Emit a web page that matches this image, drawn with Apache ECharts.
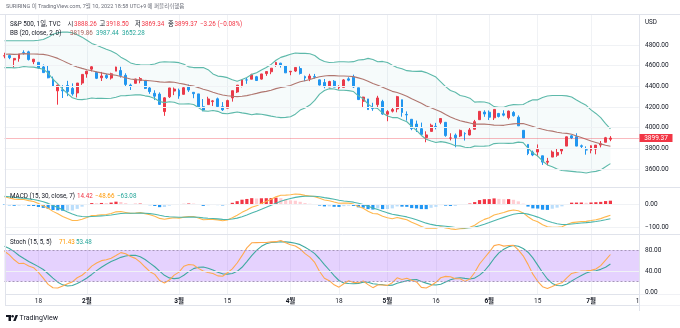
<!DOCTYPE html>
<html><head><meta charset="utf-8"><title>S&amp;P 500 daily</title>
<script src="https://cdn.jsdelivr.net/npm/echarts@6.0.0/dist/echarts.min.js"></script>
<style>html,body{margin:0;padding:0;background:#fff;}#chart{width:680px;height:328px;}</style>
</head><body><div id="chart"></div>
<script>
// ---- history before the first drawn bar (closes only, Sep-Nov 2021), used by the indicators ----
const warmClose = [4524.09,4536.95,4535.43,4520.03,4514.07,4493.28,4458.58,4468.73,4443.05,4480.70,4473.75,4432.99,4357.73,4354.19,4395.64,4448.98,4455.48,4443.11,4352.63,4359.46,4307.54,
4357.04,4300.46,4345.72,4363.55,4399.76,4391.34,4361.19,4350.65,4363.80,4438.26,4471.37,4486.46,4519.63,4536.19,4549.78,4544.90,4566.48,4574.79,4551.68,4596.42,4605.38,
4613.67,4630.65,4660.57,4680.06,4697.53,4701.70,4685.25,4646.71,4649.27,4682.85,4682.80,4700.90,4688.67,4704.54,4697.96,4682.94,4690.70,4701.46,4594.62,4655.27,4567.00];

// ---- daily bars, Dec 1 2021 .. Jul 8 2022 ----
const dates = ['12/1','12/2','12/3','12/6','12/7','12/8','12/9','12/10','12/13','12/14','12/15','12/16','12/17','12/20','12/21','12/22','12/23','12/27','12/28','12/29','12/30','12/31',
'1/3','1/4','1/5','1/6','1/7','1/10','1/11','1/12','1/13','1/14','1/18','1/19','1/20','1/21','1/24','1/25','1/26','1/27','1/28','1/31',
'2/1','2/2','2/3','2/4','2/7','2/8','2/9','2/10','2/11','2/14','2/15','2/16','2/17','2/18','2/22','2/23','2/24','2/25','2/28',
'3/1','3/2','3/3','3/4','3/7','3/8','3/9','3/10','3/11','3/14','3/15','3/16','3/17','3/18','3/21','3/22','3/23','3/24','3/25','3/28','3/29','3/30','3/31',
'4/1','4/4','4/5','4/6','4/7','4/8','4/11','4/12','4/13','4/14','4/18','4/19','4/20','4/21','4/22','4/25','4/26','4/27','4/28','4/29',
'5/2','5/3','5/4','5/5','5/6','5/9','5/10','5/11','5/12','5/13','5/16','5/17','5/18','5/19','5/20','5/23','5/24','5/25','5/26','5/27','5/31',
'6/1','6/2','6/3','6/6','6/7','6/8','6/9','6/10','6/13','6/14','6/15','6/16','6/17','6/21','6/22','6/23','6/24','6/27','6/28','6/29','6/30',
'7/1','7/5','7/6','7/7','7/8'];
const open = [4602.82,4504.73,4589.49,4548.37,4631.97,4690.86,4691.00,4687.64,4710.30,4642.99,4636.46,4719.13,4652.50,4587.90,4594.96,4650.36,4703.96,4733.99,4795.49,4788.64,4794.23,4775.21,
4778.14,4804.51,4787.99,4693.39,4697.66,4655.34,4669.14,4728.59,4733.56,4637.99,4632.24,4588.03,4547.35,4471.38,4356.32,4366.64,4408.43,4380.58,4336.19,4431.79,
4519.57,4566.39,4535.41,4482.79,4505.75,4480.02,4547.00,4553.24,4506.27,4412.61,4429.28,4455.75,4456.06,4384.57,4332.74,4324.93,4155.77,4298.38,4354.17,
4363.14,4322.56,4401.31,4342.12,4327.01,4202.66,4223.10,4252.55,4279.50,4202.75,4188.82,4288.14,4345.11,4407.34,4462.40,4469.10,4493.10,4469.98,4522.91,4541.09,4602.86,4624.20,4599.02,
4540.32,4547.97,4572.45,4494.17,4474.65,4494.15,4462.64,4437.59,4394.30,4449.12,4385.63,4390.63,4472.26,4489.17,4385.83,4255.34,4278.14,4186.52,4222.58,4253.75,
4130.61,4159.78,4181.18,4270.43,4128.17,4081.27,4035.18,3990.08,3903.95,3963.90,4013.02,4052.00,4051.98,3899.00,3927.76,3919.42,3942.94,3929.59,3984.60,4077.43,4151.09,
4149.78,4095.41,4137.57,4134.72,4096.47,4147.12,4101.65,3974.39,3838.15,3763.52,3764.05,3728.18,3665.90,3715.31,3733.89,3774.71,3821.75,3920.76,3913.00,3825.09,3785.99,
3781.00,3792.61,3831.98,3858.85,3888.26];
const high = [4652.94,4595.46,4608.03,4612.60,4694.04,4705.06,4695.26,4713.57,4710.30,4660.47,4712.60,4731.99,4666.70,4587.90,4651.14,4697.67,4740.74,4791.49,4807.02,4804.06,4808.93,4786.83,
4796.64,4818.62,4797.70,4725.01,4707.95,4673.02,4714.13,4748.83,4744.13,4665.13,4632.24,4611.55,4602.11,4494.52,4417.35,4411.01,4453.23,4428.74,4432.72,4516.89,
4550.49,4595.31,4542.88,4539.66,4521.86,4531.32,4590.03,4588.92,4526.33,4426.22,4472.77,4489.55,4456.06,4394.60,4362.12,4341.51,4294.73,4385.34,4388.84,
4378.45,4401.48,4416.78,4342.12,4327.01,4276.94,4299.40,4268.28,4291.01,4247.57,4271.05,4358.03,4412.67,4465.40,4481.75,4522.00,4501.07,4520.58,4546.03,4575.65,4637.30,4627.77,4603.07,
4548.70,4583.50,4593.45,4503.94,4521.16,4520.41,4464.35,4471.00,4453.92,4460.46,4410.31,4471.03,4488.29,4512.94,4385.83,4299.02,4278.14,4240.71,4308.45,4269.68,
4169.81,4200.10,4307.66,4270.43,4157.69,4081.27,4068.82,4049.09,3964.80,4038.88,4046.46,4090.72,4051.98,3945.96,3943.42,3981.88,3955.68,3999.33,4075.14,4158.49,4168.34,
4166.54,4177.51,4142.67,4168.78,4164.86,4160.14,4119.10,3974.39,3838.15,3778.18,3837.56,3728.18,3707.71,3779.65,3801.79,3802.58,3913.65,3927.72,3945.86,3836.50,3818.99,
3829.82,3832.19,3870.91,3910.63,3918.50];
const low = [4510.27,4504.73,4495.12,4540.51,4631.97,4674.52,4665.98,4670.24,4667.60,4606.52,4611.22,4651.89,4600.22,4531.10,4583.16,4645.53,4703.96,4733.99,4780.04,4778.08,4775.33,4765.75,
4758.17,4774.27,4699.44,4671.26,4662.74,4582.24,4638.27,4706.71,4650.29,4614.75,4568.70,4530.20,4477.95,4395.34,4222.62,4287.11,4304.80,4309.50,4292.46,4414.02,
4483.53,4544.32,4470.39,4451.50,4471.47,4465.40,4547.00,4484.31,4401.41,4364.84,4429.28,4429.68,4373.81,4327.22,4267.11,4221.51,4114.65,4286.83,4315.12,
4279.54,4322.56,4345.56,4284.98,4199.85,4157.87,4223.10,4209.80,4200.49,4161.72,4187.90,4251.99,4335.65,4390.57,4424.30,4469.10,4455.81,4465.17,4501.07,4517.69,4589.66,4581.32,4530.41,
4507.57,4539.21,4514.17,4450.04,4450.30,4474.60,4408.38,4381.34,4392.70,4390.77,4370.30,4390.63,4448.76,4384.47,4267.62,4200.82,4175.04,4162.90,4188.63,4124.28,
4062.51,4147.08,4148.91,4106.01,4067.91,3975.48,3958.17,3928.82,3858.87,3963.90,3983.99,4033.93,3911.91,3876.58,3810.32,3909.04,3875.13,3925.03,3984.60,4077.43,4104.88,
4073.85,4074.37,4098.67,4109.18,4080.19,4107.20,4017.17,3900.16,3734.30,3724.36,3722.30,3639.77,3636.87,3715.31,3717.69,3743.52,3821.75,3889.66,3820.14,3799.02,3738.67,
3752.10,3742.06,3809.37,3858.85,3869.34];
const close = [4513.04,4577.10,4538.43,4591.67,4686.75,4701.21,4667.45,4712.02,4668.97,4634.09,4709.85,4668.67,4620.64,4568.02,4649.23,4696.56,4725.79,4791.19,4786.35,4793.06,4778.73,4766.18,
4796.56,4793.54,4700.58,4696.05,4677.03,4670.29,4713.07,4726.35,4659.03,4662.85,4577.11,4532.76,4482.73,4397.94,4410.13,4356.45,4349.93,4326.51,4431.85,4515.55,
4546.54,4589.38,4477.44,4500.53,4483.87,4521.54,4587.18,4504.08,4418.64,4401.67,4471.07,4475.01,4380.26,4348.87,4304.76,4225.50,4288.70,4384.65,4373.94,
4306.26,4386.54,4363.49,4328.87,4201.09,4170.70,4277.88,4259.52,4204.31,4173.11,4262.45,4357.86,4411.67,4463.12,4461.18,4511.61,4456.24,4520.16,4543.06,4575.52,4631.60,4602.45,4530.41,
4545.86,4582.64,4525.12,4481.15,4500.21,4488.28,4412.53,4397.45,4446.59,4392.59,4391.69,4462.21,4459.45,4393.66,4271.78,4296.12,4175.20,4183.96,4287.50,4131.93,
4155.38,4175.48,4300.17,4146.87,4123.34,3991.24,4001.05,3935.18,3930.08,4023.89,4008.01,4088.85,3923.68,3900.79,3901.36,3973.75,3941.48,3978.73,4057.84,4158.24,4132.15,
4101.23,4176.82,4108.54,4121.43,4160.68,4115.77,4017.82,3900.86,3749.63,3735.48,3789.99,3666.77,3674.84,3764.79,3759.89,3795.73,3911.74,3900.11,3821.55,3818.83,3785.38,
3825.33,3831.39,3845.08,3902.62,3899.37];
const futureDates = ['7/11','7/12','7/13','7/14','7/15','7/18'];
const firstShown = '1/6';

// ---- axis ticks / labels ----
const tickDates = ['1/18','2/1','3/1','3/15','4/1','4/18','5/2','5/16','6/1','6/15','7/1','7/18'];
const tickTexts = ['18','2월','3월','15','4월','18','5월','16','6월','15','7월','18'];
const priceTicks = [3600,3800,4000,4200,4400,4600,4800];
const macdTicks = [0,-100];
const stochTicks = [0,40,80];
const stochBand = [20,80];

// ---- texts ----
const headerText = 'SURIRING 이 TradingView.com, 7월 10, 2022 18:58 UTC+9 에 퍼블리쉬했음';
const symbolText = 'S&P 500, 1일, TVC';
const changeText = '−3.26 (−0.08%)';
const bbLegend = ['BB (20, close, 2, 0)', '3819.86', '3987.44', '3652.28'];
const macdLegend = ['MACD (15, 30, close, 7)', '14.42', '−48.66', '−63.08'];
const stochLegend = ['Stoch (15, 5, 5)', '71.43', '53.48'];

// ---- indicator parameters (from the legends) ----
const BB_LEN = 20, BB_MULT = 2, MACD_FAST = 15, MACD_SLOW = 30, MACD_SIG = 7, ST_LEN = 15, ST_K = 5, ST_D = 5;

const F = 'Roboto, "Noto Sans CJK KR", "Noto Sans", sans-serif';
const UP = '#F23645', DOWN = '#2196F3';

function sma(a, i, n) { if (i - n + 1 < 0) return null; let s = 0; for (let k = i - n + 1; k <= i; k++) { if (a[k] == null) return null; s += a[k]; } return s / n; }
function ema(a, n) { const out = a.map(() => null); const al = 2 / (n + 1); let p = null;
  for (let i = 0; i < a.length; i++) { if (a[i] == null) continue; if (p == null) { const s = sma(a, i, n); if (s == null) continue; p = s; } else p = al * a[i] + (1 - al) * p; out[i] = p; } return out; }

const W = warmClose.length;
const allC = warmClose.concat(close);
const bbMid = [], bbUp = [], bbLo = [];
for (let i = 0; i < allC.length; i++) {
  const m = sma(allC, i, BB_LEN);
  if (m == null) { bbMid.push(null); bbUp.push(null); bbLo.push(null); continue; }
  let v = 0; for (let k = i - BB_LEN + 1; k <= i; k++) v += (allC[k] - m) * (allC[k] - m);
  const sd = Math.sqrt(v / BB_LEN); bbMid.push(m); bbUp.push(m + BB_MULT * sd); bbLo.push(m - BB_MULT * sd);
}
const eF = ema(allC, MACD_FAST), eS = ema(allC, MACD_SLOW);
const macd = allC.map((_, i) => (eF[i] == null || eS[i] == null) ? null : eF[i] - eS[i]);
const sig = ema(macd, MACD_SIG);
const hist = macd.map((v, i) => (v == null || sig[i] == null) ? null : v - sig[i]);
const raw = close.map((c, i) => { if (i < ST_LEN - 1) return null; let hh = -Infinity, ll = Infinity;
  for (let k = i - ST_LEN + 1; k <= i; k++) { hh = Math.max(hh, high[k]); ll = Math.min(ll, low[k]); } return 100 * (c - ll) / (hh - ll); });
const kLine = raw.map((_, i) => sma(raw, i, ST_K));
const dLine = kLine.map((_, i) => sma(kLine, i, ST_D));

const vs = dates.indexOf(firstShown);
const cats = dates.slice(vs).concat(futureDates);
const pad = futureDates.map(() => null);
const showA = a => a.slice(vs + W).concat(pad);
const showD = a => a.slice(vs).concat(pad);

const candles = dates.slice(vs).map((d, j) => { const i = vs + j; return [open[i], close[i], low[i], high[i]]; }).concat(futureDates.map(() => '-'));
const upS = showA(bbUp), loS = showA(bbLo), midS = showA(bbMid);
const widthS = upS.map((u, i) => u == null ? null : u - loS[i]);
const histS = showA(hist);
const histData = histS.map((h, i) => {
  if (h == null) return '-';
  const p = i > 0 ? histS[i - 1] : h;
  const col = h >= 0 ? (p < h ? '#F23645' : '#FFCDD2') : (p < h ? '#BBDEFB' : '#2196F3');
  return { value: h, itemStyle: { color: col } };
});

const tickSet = new Set(tickDates);
const GRID_L = 4.5, GRID_R = 40.5;
const grids = [
  { left: GRID_L, right: GRID_R, top: 14, height: 173 },
  { left: GRID_L, right: GRID_R, top: 188, height: 46 },
  { left: GRID_L, right: GRID_R, top: 235, height: 59 }
];
const vGrid = { show: true, interval: (i, v) => tickSet.has(v), lineStyle: { color: '#F0F2F5', width: 1 } };
function xAx(gi, labels) {
  return { type: 'category', gridIndex: gi, data: cats, boundaryGap: false,
    axisLine: { show: false }, axisTick: { show: false }, splitLine: vGrid,
    axisLabel: labels ? { show: true, interval: (i, v) => tickSet.has(v), margin: 4.5,
      formatter: v => { const t = tickTexts[tickDates.indexOf(v)]; return t.endsWith('월') ? '{m|' + t + '}' : '{d|' + t + '}'; },
      rich: { m: { fontSize: 6.5, fontWeight: 'bold', color: '#131722', fontFamily: F }, d: { fontSize: 6.5, color: '#131722', fontFamily: F } } }
      : { show: false } };
}
function yAx(gi, min, max) {
  return { type: 'value', gridIndex: gi, position: 'right', min, max, axisLabel: { show: false }, splitLine: { show: false }, axisLine: { show: false }, axisTick: { show: false } };
}
const faint = { color: '#F0F2F5', width: 1, type: 'solid' };
function gridSeries(xi, ticks, extra) {
  const s = { type: 'line', xAxisIndex: xi, yAxisIndex: xi, data: cats.map(() => null), symbol: 'none', silent: true,
    markLine: { silent: true, symbol: ['none', 'none'], label: { show: false }, animation: false,
      data: ticks.map(v => ({ yAxis: v, lineStyle: faint })) } };
  return Object.assign(s, extra || {});
}
const lineBase = { type: 'line', symbol: 'none', showSymbol: false, silent: true, smooth: false };
const lastClose = close[close.length - 1];

const option = {
  animation: false,
  textStyle: { fontFamily: F },
  grid: grids,
  xAxis: [xAx(0, false), xAx(1, false), xAx(2, true)],
  yAxis: [yAx(0, 3426, 5100), yAx(1, -129, 69), yAx(2, -3.8, 108.6)],
  series: [
    gridSeries(0, priceTicks),
    Object.assign({}, lineBase, { name: 'bbBase', xAxisIndex: 0, yAxisIndex: 0, data: loS, stack: 'bb', lineStyle: { opacity: 0 } }),
    Object.assign({}, lineBase, { name: 'bbFill', xAxisIndex: 0, yAxisIndex: 0, data: widthS, stack: 'bb', lineStyle: { opacity: 0 }, areaStyle: { color: 'rgba(38,166,154,0.06)' } }),
    Object.assign({}, lineBase, { name: 'BB upper', xAxisIndex: 0, yAxisIndex: 0, data: upS, lineStyle: { color: '#5DB9AA', width: 1.1 } }),
    Object.assign({}, lineBase, { name: 'BB lower', xAxisIndex: 0, yAxisIndex: 0, data: loS, lineStyle: { color: '#5DB9AA', width: 1.1 } }),
    Object.assign({}, lineBase, { name: 'BB basis', xAxisIndex: 0, yAxisIndex: 0, data: midS, lineStyle: { color: '#B0766F', width: 1.1 } }),
    { type: 'candlestick', name: 'S&P 500', xAxisIndex: 0, yAxisIndex: 0, data: candles, barWidth: 2.4, silent: true,
      itemStyle: { color: UP, color0: DOWN, borderColor: UP, borderColor0: DOWN, borderWidth: 1 },
      markLine: { silent: true, symbol: ['none', 'none'], label: { show: false }, animation: false,
        data: [{ yAxis: lastClose, lineStyle: { color: 'rgba(242,54,69,0.35)', width: 1, type: 'solid' } }] } },
    gridSeries(1, macdTicks),
    { type: 'bar', name: 'Histogram', xAxisIndex: 1, yAxisIndex: 1, data: histData, barWidth: 3.2, silent: true },
    Object.assign({}, lineBase, { name: 'MACD', xAxisIndex: 1, yAxisIndex: 1, data: showA(macd), lineStyle: { color: '#FFB74D', width: 1.1 } }),
    Object.assign({}, lineBase, { name: 'Signal', xAxisIndex: 1, yAxisIndex: 1, data: showA(sig), lineStyle: { color: '#4DB6AC', width: 1.1 } }),
    gridSeries(2, [40], {
      markArea: { silent: true, animation: false, itemStyle: { color: 'rgba(160,90,250,0.27)' }, data: [[{ yAxis: stochBand[0] }, { yAxis: stochBand[1] }]] }
    }),
    Object.assign({}, lineBase, { name: 'bands', xAxisIndex: 2, yAxisIndex: 2, data: cats.map(() => null),
      markLine: { silent: true, symbol: ['none', 'none'], label: { show: false }, animation: false,
        data: stochBand.map(v => ({ yAxis: v, lineStyle: { color: '#A697B8', width: 1, type: [2, 2] } })) } }),
    Object.assign({}, lineBase, { name: '%D', xAxisIndex: 2, yAxisIndex: 2, data: showD(dLine), lineStyle: { color: '#3FA9A0', width: 1.1 } }),
    Object.assign({}, lineBase, { name: '%K', xAxisIndex: 2, yAxisIndex: 2, data: showD(kLine), lineStyle: { color: '#FFA94D', width: 1.1 } })
  ]
};

const chart = echarts.init(document.getElementById('chart'), null, { renderer: 'canvas', width: 680, height: 328 });
chart.setOption(option);

// ---- overlay texts, separators and price-scale labels ----
const G = [];
const LC = '#E0E3EB';
const txt = (x, y, text, fill, size, extra) => G.push(Object.assign({ type: 'text', x, y, z: 100, silent: true,
  style: Object.assign({ text, fill, fontSize: size || 6.3, fontFamily: F, verticalAlign: 'middle', align: 'left' }, extra || {}) }));
const ln = (x1, y1, x2, y2) => G.push({ type: 'line', z: 90, silent: true, shape: { x1, y1, x2, y2 }, style: { stroke: LC, lineWidth: 1 } });
const fmt = v => (v < 0 ? '−' : '') + Math.abs(v).toFixed(2);

ln(0, 14.5, 680, 14.5); ln(5.5, 14.5, 5.5, 306); ln(639.5, 14.5, 639.5, 311);
ln(5.5, 187.5, 680, 187.5); ln(5.5, 234.5, 680, 234.5); ln(5.5, 294.5, 680, 294.5); ln(5.5, 305.5, 680, 305.5);

txt(6, 7, headerText, '#6A6D78', 5.5);
txt(10, 24, symbolText, '#131722');
const ohlcLbl = [['시', 67.5, open], ['고', 99.5, high], ['저', 135, low], ['종', 168, close]];
ohlcLbl.forEach(([k, x, arr]) => { txt(x, 24, k, '#131722'); txt(x + 6.5, 24, arr[arr.length - 1].toFixed(2), UP); });
txt(200, 24, changeText, UP);
txt(10, 33, bbLegend[0], '#131722'); txt(70, 33, bbLegend[1], '#A9605A'); txt(96, 33, bbLegend[2], '#26A69A'); txt(122, 33, bbLegend[3], '#26A69A');
txt(10, 196.5, macdLegend[0], '#131722'); txt(77, 196.5, macdLegend[1], UP); txt(95, 196.5, macdLegend[2], '#FF9800'); txt(117, 196.5, macdLegend[3], '#26A69A');
txt(10, 242.5, stochLegend[0], '#131722'); txt(59, 242.5, stochLegend[1], '#FF9800'); txt(76, 242.5, stochLegend[2], '#26A69A');

txt(645, 22, 'USD', '#131722', 6.3);
priceTicks.forEach(v => txt(645, chart.convertToPixel({ yAxisIndex: 0 }, v), fmt(v), '#131722', 6.5));
macdTicks.forEach(v => txt(645, chart.convertToPixel({ yAxisIndex: 1 }, v), fmt(v), '#131722', 6.5));
stochTicks.forEach(v => txt(645, chart.convertToPixel({ yAxisIndex: 2 }, v), fmt(v), '#131722', 6.5));

const py = chart.convertToPixel({ yAxisIndex: 0 }, lastClose);
G.push({ type: 'rect', z: 98, silent: true, shape: { x: 639.5, y: py - 4, width: 33, height: 8 }, style: { fill: UP } });
txt(656, py, lastClose.toFixed(2), '#ffffff', 6.5, { align: 'center' });

// white band under the price scale (clips the lowest stoch label and the last date label, as in the reference)
G.push({ type: 'rect', z: 99, silent: true, shape: { x: 640, y: 294.5, width: 40, height: 11 }, style: { fill: '#fff' } });
ln(639.5, 294, 639.5, 311);

// TradingView mark
G.push({ type: 'rect', z: 100, silent: true, shape: { x: 6, y: 315, width: 5, height: 2 }, style: { fill: '#131722' } });
G.push({ type: 'rect', z: 100, silent: true, shape: { x: 8.5, y: 315, width: 2.5, height: 6 }, style: { fill: '#131722' } });
G.push({ type: 'circle', z: 100, silent: true, shape: { cx: 12.6, cy: 316.2, r: 1.2 }, style: { fill: '#131722' } });
G.push({ type: 'polygon', z: 100, silent: true, shape: { points: [[13.2, 321], [15.6, 315], [18, 315], [15.6, 321]] }, style: { fill: '#131722' } });
txt(19.5, 318, 'TradingView', '#131722', 7);

chart.setOption({ graphic: G });
</script></body></html>
